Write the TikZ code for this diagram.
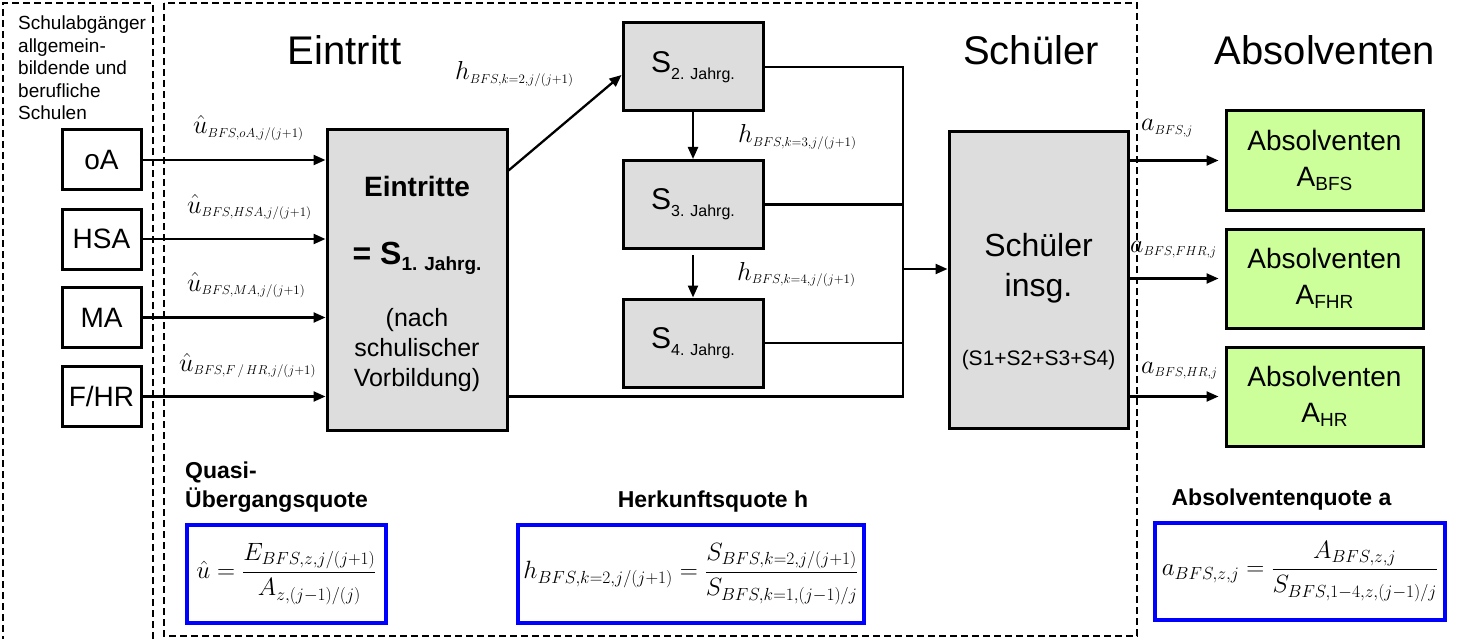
\RequirePackage{fix-cm}
\documentclass[tikz,border=0pt]{standalone}
\usepackage{amsmath}
\usepackage{fontspec}
\setmainfont{Liberation Sans}
\usetikzlibrary{arrows.meta,calc}
\definecolor{boxgray}{RGB}{221,221,221}
\definecolor{boxgreen}{RGB}{204,255,153}
\newcommand\fsz[1]{\fontsize{#1}{#1}\selectfont}
\newcommand\lowsub[3]{\raisebox{-#2}{\fontsize{#1}{#1}\selectfont #3}}
\newcommand\ssub[1]{_{\scriptscriptstyle #1}}
\begin{document}
\begin{tikzpicture}[x=1pt,y=-1pt,line join=miter,
  box/.style={draw, line width=3pt, inner sep=0pt, align=center},
  srcbox/.style={box, minimum width=79pt, minimum height=60pt, font=\fsz{28}},
  graybox/.style={box, fill=boxgray},
  sbox/.style={graybox, minimum width=140pt, minimum height=88pt, font=\fsz{30}},
  absbox/.style={box, fill=boxgreen, minimum width=197pt, minimum height=99pt, font=\fontsize{28}{36}\selectfont},
  arr/.style={line width=2.3pt, -{Triangle[length=12pt,width=10pt]}},
  conn/.style={line width=2.3pt},
  dbox/.style={dash pattern=on 7pt off 4pt, line width=1.4pt},
  fbox/.style={draw=blue, line width=4.5pt, inner sep=0pt, minimum height=98pt},
  lbl/.style={font=\fsz{26}, inner sep=0pt, anchor=base west},
  title/.style={font=\fsz{40}, anchor=base, inner sep=0pt},
  head/.style={font=\bfseries\fsz{23}, inner sep=0pt, anchor=base west}
]
\useasboundingbox (0,0) rectangle (1466,639);

% dashed frames
\draw[dbox] (153,639) -- (153,3) -- (3,3) -- (3,639);
\draw[dbox] (164,3) rectangle (1137,636);

% left text
\node[anchor=north west, align=left, inner sep=0pt, font=\fontsize{19}{22.5}\selectfont] (lt) at (18,16)
  {Schulabgänger\\allgemein-\\bildende und\\berufliche\\Schulen};

% titles
\node[title] (tE) at (344.5,65) {Eintritt};
\node[title] (tS) at (1031,65) {Schüler};
\node[title] (tA) at (1325,65) {Absolventen};

% source boxes
\node[srcbox] (oA) at (101.5,160) {oA};
\node[srcbox] (hsa) at (101.5,239) {HSA};
\node[srcbox] (ma) at (101.5,317.5) {MA};
\node[srcbox] (fhr) at (101.5,396.5) {F/HR};

% Eintritte
\node[graybox, minimum width=180pt, minimum height=300pt] (E) at (417,280) {};
\node[font=\bfseries\fsz{28}, inner sep=0pt] (Et1) at (417,186) {Eintritte};
\node[font=\bfseries\fsz{32}, inner sep=0pt] (Et2) at (417,258) {= S\lowsub{19}{6pt}{1. Jahrg.}};
\node[font=\fontsize{25}{30}\selectfont, align=center, inner sep=0pt] (Et3) at (417,350) {(nach\\schulischer\\Vorbildung)};

% S boxes
\node[sbox] (S2) at (693,67) {S\lowsub{16}{7pt}{2. Jahrg.}};
\node[sbox] (S3) at (693,204.5) {S\lowsub{16}{7pt}{3. Jahrg.}};
\node[sbox] (S4) at (693,343) {S\lowsub{16}{7pt}{4. Jahrg.}};

% Schueler
\node[graybox, minimum width=179pt, minimum height=296pt] (Sch) at (1038.5,280) {};
\node[font=\fontsize{32}{40}\selectfont, align=center, inner sep=0pt] (Sch1) at (1038.5,268) {Schüler\\insg.};
\node[font=\fsz{21}, inner sep=0pt] (Sch2) at (1038.5,360) {(S1+S2+S3+S4)};

% Absolventen boxes
\node[absbox] (A1) at (1324.5,160.5) {Absolventen\\A\lowsub{19}{4pt}{BFS}};
\node[absbox] (A2) at (1324.5,278.5) {Absolventen\\A\lowsub{19}{4pt}{FHR}};
\node[absbox] (A3) at (1324.5,396.5) {Absolventen\\A\lowsub{19}{4pt}{HR}};

% arrows from sources
\draw[arr] (oA.east) -- (oA.east -| E.west);
\draw[arr] (hsa.east) -- (hsa.east -| E.west);
\draw[arr] (ma.east) -- (ma.east -| E.west);
\draw[arr] (fhr.east) -- (fhr.east -| E.west);

% u labels
\node[lbl] (u1) at (193,134) {$\hat{u}\ssub{BFS,oA,j/(j+1)}$};
\node[lbl] (u2) at (187,213) {$\hat{u}\ssub{BFS,HSA,j/(j+1)}$};
\node[lbl] (u3) at (187,291) {$\hat{u}\ssub{BFS,MA,j/(j+1)}$};
\node[lbl] (u4) at (179,371) {$\hat{u}\ssub{BFS,F\,/\,HR,j/(j+1)}$};

% internal flow
\coordinate (eo) at ($(E.north east)+(0,42)$);
\coordinate (s2in) at ($(S2.west)+(0,8)$);
\draw[arr] (eo) -- (s2in);
\draw[arr] (S2.south) -- (S3.north);
\coordinate (s3o) at ($(S3.south)+(0,5)$);
\draw[arr] (s3o) -- (S4.north);
\node[lbl] (h2) at (455,80) {$h\ssub{BFS,k=2,j/(j+1)}$};
\node[lbl] (h3) at (738,143) {$h\ssub{BFS,k=3,j/(j+1)}$};
\node[lbl] (h4) at (737,280) {$h\ssub{BFS,k=4,j/(j+1)}$};

\coordinate (J) at (903,269);
\draw[conn] (S2.east) -- (S2.east -| J) -- (J |- fhr.east) -- (fhr.east -| E.east);
\draw[conn] (S3.east) -- (S3.east -| J);
\draw[conn] (S4.east) -- (S4.east -| J);
\draw[arr] (J) -- (J -| Sch.west);

% outputs
\coordinate (a1e) at ($(A1.west)+(-6,0)$);
\coordinate (a2e) at ($(A2.west)+(-6,0)$);
\coordinate (a3e) at ($(A3.west)+(-6,0)$);
\draw[arr] (A1.west -| Sch.east) -- (a1e);
\draw[arr] (A2.west -| Sch.east) -- (a2e);
\draw[arr] (A3.west -| Sch.east) -- (a3e);
\node[lbl] (a1) at (1141,131) {$a\ssub{BFS,j}$};
\node[lbl] (a2) at (1130,252) {$a\ssub{BFS,FHR,j}$};
\node[lbl] (a3) at (1141,373) {$a\ssub{BFS,HR,j}$};

% headings
\node[head] (q1) at (185,478) {Quasi-};
\node[head] (q2) at (185,507) {Übergangsquote};
\node[head, anchor=base] (hh) at (713,507) {Herkunftsquote h};
\node[head, anchor=base] (ah) at (1281.5,505) {Absolventenquote a};

% formula boxes
\node[fbox, minimum width=199pt, font=\fsz{25}] (F1) at (286.5,574)
  {$\displaystyle \hat{u}=\frac{E_{BFS,z,j/(j+1)}}{A_{z,(j-1)/(j)}}$};
\node[fbox, minimum width=346pt, font=\fsz{25}] (F2) at (691,574)
  {$\displaystyle h_{BFS,k=2,j/(j+1)}=\frac{S_{BFS,k=2,j/(j+1)}}{S_{BFS,k=1,(j-1)/j}}$};
\node[fbox, minimum width=290pt, minimum height=97pt, font=\fsz{25}] (F3) at (1300,571.5)
  {$\displaystyle a_{BFS,z,j}=\frac{A_{BFS,z,j}}{S_{BFS,1-4,z,(j-1)/j}}$};
\end{tikzpicture}
\end{document}
